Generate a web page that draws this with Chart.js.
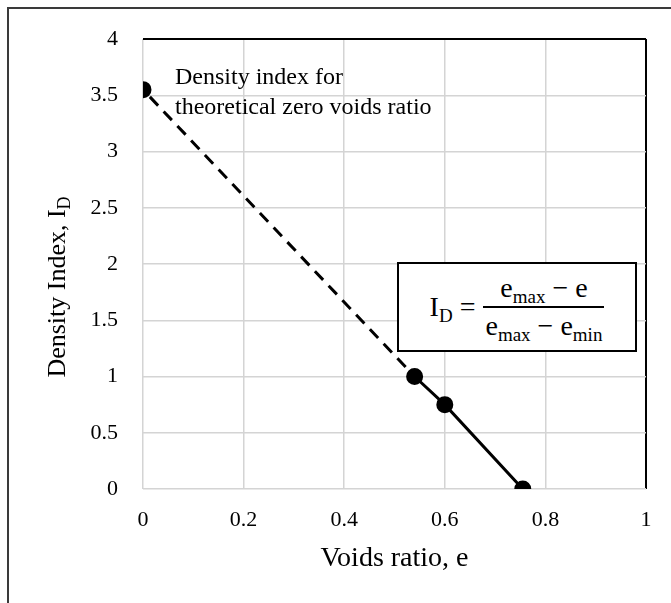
<!DOCTYPE html>
<html>
<head>
<meta charset="utf-8">
<script src="https://cdn.jsdelivr.net/npm/chart.js@4"></script>
<style>
  html, body { margin: 0; padding: 0; background: #fff; }
  #wrap { position: relative; width: 671px; height: 603px; overflow: hidden; }
  #frame { position: absolute; left: 7px; top: 7px; width: 800px; height: 800px;
           border-left: 2px solid #3a3a3a; border-top: 2px solid #3a3a3a; }
  canvas { position: absolute; left: 0; top: 0; }
  .serif { font-family: "Liberation Serif", "Times New Roman", serif; color: #000; }
  #note { position: absolute; left: 175px; top: 61px; font-size: 24px; line-height: 30px; }
  #formula { position: absolute; left: 397px; top: 262px; width: 236px; height: 86px;
             border: 2px solid #000; background: #fff; font-size: 28px;
             display: flex; align-items: center; justify-content: center; }
  #formula sub { font-size: 19px; vertical-align: -6px; line-height: 0; }
  .frac { display: inline-flex; flex-direction: column; align-items: center; margin-left: 8px; line-height: 34px; }
  .frac .num { border-bottom: 2px solid #000; padding: 0 2px 1px; align-self: stretch; text-align: center; }
  .frac .den { padding: 1px 2px 0; }
</style>
</head>
<body>
<div id="wrap">
  <div id="frame"></div>
  <canvas id="chart" width="671" height="603"></canvas>
  <div id="note" class="serif">Density index for<br>theoretical zero voids ratio</div>
  <div id="formula" class="serif">
    <span>I<sub>D</sub> =</span>
    <span class="frac">
      <span class="num">e<sub>max</sub> − e</span>
      <span class="den">e<sub>max</sub> − e<sub>min</sub></span>
    </span>
  </div>
</div>
<script>
// extrapolated line to zero voids ratio
const eDashed  = [0, 0.54];
const idDashed = [3.55, 1.0];

// measured line
const eSolid  = [0.54, 0.6, 0.755];
const idSolid = [1.0, 0.75, 0];

const xTicks = [0, 0.2, 0.4, 0.6, 0.8, 1];
const yTicks = [0, 0.5, 1, 1.5, 2, 2.5, 3, 3.5, 4];

const serif = '"Liberation Serif", "Times New Roman", serif';

// y axis title with a subscript, drawn on the canvas
const yTitle = {
  id: 'yTitle',
  afterDraw(chart) {
    const ctx = chart.ctx;
    ctx.save();
    ctx.translate(58, 287);
    ctx.rotate(-Math.PI / 2);
    ctx.fillStyle = '#000';
    ctx.textBaseline = 'middle';
    const main = 'Density Index, I';
    ctx.font = '26px ' + serif;
    const w1 = ctx.measureText(main).width;
    ctx.font = '18px ' + serif;
    const w2 = ctx.measureText('D').width;
    const x0 = -(w1 + w2) / 2;
    ctx.font = '26px ' + serif;
    ctx.fillText(main, x0, 0);
    ctx.font = '18px ' + serif;
    ctx.fillText('D', x0 + w1, 7);
    ctx.restore();
  }
};

new Chart(document.getElementById('chart'), {
  type: 'scatter',
  data: {
    datasets: [
      {
        label: 'Extrapolated',
        data: eDashed.map((e, i) => ({ x: e, y: idDashed[i] })),
        showLine: true,
        borderColor: '#000',
        borderWidth: 3,
        borderDash: [12, 8],
        borderDashOffset: -10,
        pointRadius: [7, 0],
        pointBackgroundColor: '#000',
        pointBorderColor: '#000',
      },
      {
        label: 'Measured',
        data: eSolid.map((e, i) => ({ x: e, y: idSolid[i] })),
        showLine: true,
        borderColor: '#000',
        borderWidth: 3,
        pointRadius: 7,
        pointBackgroundColor: '#000',
        pointBorderColor: '#000',
      }
    ]
  },
  options: {
    responsive: false,
    animation: false,
    layout: { padding: { left: 0, top: 39, right: 25, bottom: 24 } },
    plugins: { legend: { display: false }, tooltip: { enabled: false } },
    scales: {
      x: {
        type: 'linear', min: 0, max: 1,
        afterBuildTicks: s => { s.ticks = xTicks.map(v => ({ value: v })); },
        afterFit: s => { s.height = 90; },
        border: { display: false },
        grid: {
          drawTicks: false,
          color: c => c.tick && c.tick.value === 1 ? '#000' : '#d4d4d4',
          lineWidth: c => c.tick && c.tick.value === 1 ? 2 : 1.5,
        },
        ticks: { padding: 18, color: '#000', font: { family: serif, size: 22 },
                 maxRotation: 0, callback: v => String(v) },
        title: { display: true, text: 'Voids ratio, e', color: '#000',
                 font: { family: serif, size: 28 } }
      },
      y: {
        type: 'linear', min: 0, max: 4,
        afterBuildTicks: s => { s.ticks = yTicks.map(v => ({ value: v })); },
        afterFit: s => { s.width = 143; },
        border: { display: false },
        grid: {
          drawTicks: false,
          color: c => c.tick && c.tick.value === 4 ? '#000' : '#d4d4d4',
          lineWidth: c => c.tick && c.tick.value === 4 ? 2 : 1.5,
        },
        ticks: { padding: 25, color: '#000', font: { family: serif, size: 22 },
                 callback: v => String(v) }
      }
    }
  },
  plugins: [yTitle]
});
</script>
</body>
</html>
